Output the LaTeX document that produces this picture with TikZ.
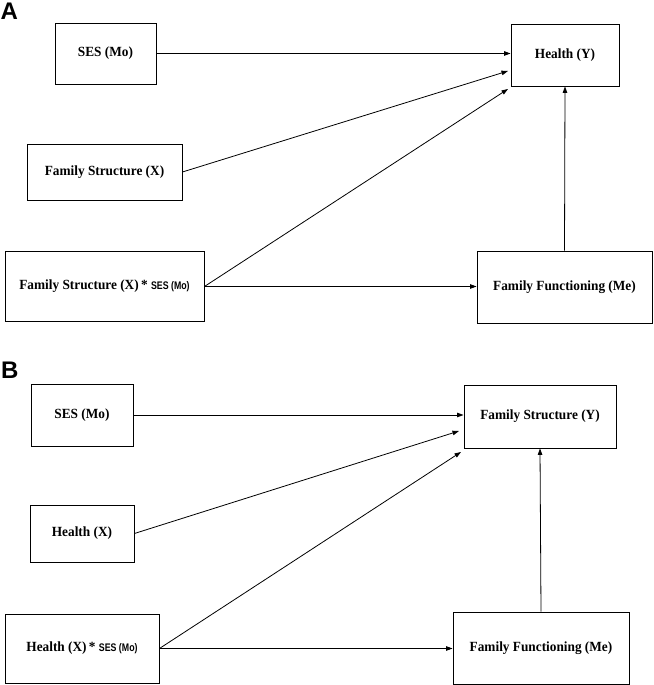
\documentclass[tikz,border=0pt]{standalone}
\usepackage{fontspec}
\setmainfont{Liberation Serif}[FakeStretch=0.95]
\newfontfamily\lsans{Liberation Sans}
\newfontfamily\lsansn{Liberation Sans}[FakeStretch=0.8]
\usetikzlibrary{arrows.meta}
\begin{document}
\begin{tikzpicture}[x=1pt,y=1pt,
  box/.style={draw, line width=0.9pt, inner sep=0pt, font=\fontsize{14}{16}\selectfont\bfseries, align=center},
  conn/.style={line width=0.8pt, -{Triangle[length=6.5pt,width=4.5pt]}},
  panel/.style={font=\lsans\fontsize{24}{26}\selectfont\bfseries, inner sep=0pt, anchor=north west}]
\useasboundingbox (0,0) rectangle (653,685);
\newcommand{\sm}[1]{{\lsansn\fontsize{11}{12}\selectfont\bfseries #1}}
% Panel A
\node[panel] (labA) at (0.5,682) {A};
\node[box, minimum width=101pt, minimum height=61pt] (sesA) at (105.5,631.5) {SES (Mo)};
\node[box, minimum width=155pt, minimum height=56pt] (fsA) at (104.5,513) {Family Structure (X)};
\node[box, minimum width=199pt, minimum height=70pt] (intA) at (104.5,398.5) {Family Structure (X)\,* \sm{SES (Mo)}};
\node[box, minimum width=108pt, minimum height=62pt] (hA) at (565,630) {Health (Y)};
\node[box, minimum width=175pt, minimum height=72pt] (ffA) at (564.5,398) {Family Functioning (Me)};
\coordinate (tA1) at (508,614);
\coordinate (tA2) at (508,596);
\draw[conn] (sesA.east) -- (sesA.east -| hA.west);
\draw[conn] (fsA.east) -- (tA1);
\draw[conn] (intA.east) -- (tA2);
\draw[conn] (intA.east) -- (intA.east -| ffA.west);
\draw[conn] (ffA.north) -- (hA.south);
% Panel B
\node[panel] (labB) at (1,323) {B};
\node[box, minimum width=102pt, minimum height=62pt] (sesB) at (82,270) {SES (Mo)};
\node[box, minimum width=104pt, minimum height=57pt] (hB) at (82,151.5) {Health (X)};
\node[box, minimum width=154pt, minimum height=69pt] (intB) at (82,36.5) {Health (X)\,* \sm{SES (Mo)}};
\node[box, minimum width=152pt, minimum height=63pt] (fsB) at (540,268.5) {Family Structure (Y)};
\node[box, minimum width=176pt, minimum height=72pt] (ffB) at (541,37) {Family Functioning (Me)};
\coordinate (tB1) at (459,254);
\coordinate (tB2) at (461,233);
\draw[conn] (sesB.east) -- (sesB.east -| fsB.west);
\draw[conn] (hB.east) -- (tB1);
\draw[conn] (intB.east) -- (tB2);
\draw[conn] (intB.east) -- (intB.east -| ffB.west);
\draw[conn] (ffB.north) -- (fsB.south);
\end{tikzpicture}
\end{document}
